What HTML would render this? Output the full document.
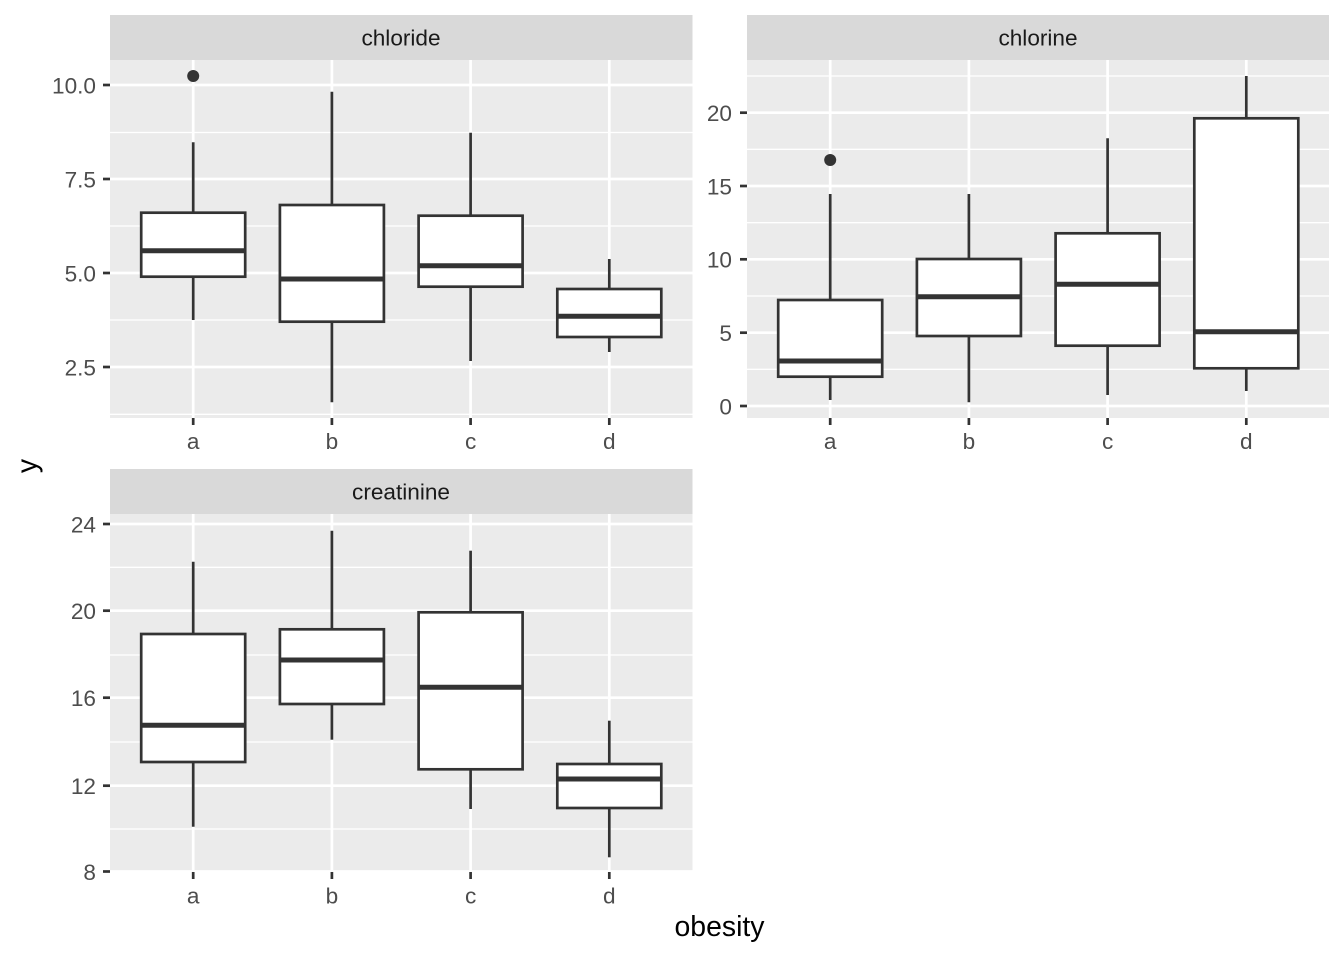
<!DOCTYPE html>
<html><head><meta charset="utf-8"><style>
html,body{margin:0;padding:0;background:#fff;}
svg{display:block;}
text{font-family:"Liberation Sans",Arial,sans-serif;}
</style></head><body>
<svg width="1344" height="960" viewBox="0 0 1344 960" xmlns="http://www.w3.org/2000/svg">
<rect width="1344" height="960" fill="#fff"/>

<!-- ===== Panel 1: chloride ===== -->
<rect x="110" y="15" width="582.5" height="45" fill="#D9D9D9"/>
<text x="401" y="45.7" font-size="22.6" fill="#1A1A1A" text-anchor="middle">chloride</text>
<rect x="110" y="60" width="582.5" height="358" fill="#EBEBEB"/>
<g stroke="#fff" stroke-width="1.35">
<line x1="110" x2="692.5" y1="132.5" y2="132.5"/>
<line x1="110" x2="692.5" y1="226" y2="226"/>
<line x1="110" x2="692.5" y1="320" y2="320"/>
<line x1="110" x2="692.5" y1="414.3" y2="414.3"/>
</g>
<g stroke="#fff" stroke-width="2.7">
<line x1="110" x2="692.5" y1="85" y2="85"/>
<line x1="110" x2="692.5" y1="179" y2="179"/>
<line x1="110" x2="692.5" y1="273" y2="273"/>
<line x1="110" x2="692.5" y1="367" y2="367"/>
<line x1="193.2" x2="193.2" y1="60" y2="418"/>
<line x1="331.9" x2="331.9" y1="60" y2="418"/>
<line x1="470.6" x2="470.6" y1="60" y2="418"/>
<line x1="609.3" x2="609.3" y1="60" y2="418"/>
</g>
<g stroke="#333" stroke-width="2.7" fill="#fff">
<!-- a -->
<line x1="193.2" x2="193.2" y1="142.3" y2="212.7"/>
<line x1="193.2" x2="193.2" y1="276.7" y2="320"/>
<rect x="141.2" y="212.7" width="104" height="64"/>
<!-- b -->
<line x1="331.9" x2="331.9" y1="91.7" y2="205"/>
<line x1="331.9" x2="331.9" y1="321.7" y2="402.3"/>
<rect x="279.9" y="205" width="104" height="116.7"/>
<!-- c -->
<line x1="470.6" x2="470.6" y1="132.7" y2="215.7"/>
<line x1="470.6" x2="470.6" y1="286.7" y2="361"/>
<rect x="418.6" y="215.7" width="104" height="71"/>
<!-- d -->
<line x1="609.3" x2="609.3" y1="259" y2="289"/>
<line x1="609.3" x2="609.3" y1="337" y2="352"/>
<rect x="557.3" y="289" width="104" height="48"/>
</g>
<g stroke="#333" stroke-width="5">
<line x1="141.2" x2="245.2" y1="250.7" y2="250.7"/>
<line x1="279.9" x2="383.9" y1="279" y2="279"/>
<line x1="418.6" x2="522.6" y1="265.7" y2="265.7"/>
<line x1="557.3" x2="661.3" y1="316.3" y2="316.3"/>
</g>
<circle cx="193.2" cy="76" r="6" fill="#333"/>
<g stroke="#333" stroke-width="2.7">
<line x1="103" x2="110" y1="85" y2="85"/>
<line x1="103" x2="110" y1="179" y2="179"/>
<line x1="103" x2="110" y1="273" y2="273"/>
<line x1="103" x2="110" y1="367" y2="367"/>
<line x1="193.2" x2="193.2" y1="418" y2="425"/>
<line x1="331.9" x2="331.9" y1="418" y2="425"/>
<line x1="470.6" x2="470.6" y1="418" y2="425"/>
<line x1="609.3" x2="609.3" y1="418" y2="425"/>
</g>
<g font-size="22.6" fill="#4D4D4D" text-anchor="end">
<text x="96" y="93.3">10.0</text>
<text x="96" y="187.3">7.5</text>
<text x="96" y="281.3">5.0</text>
<text x="96" y="375.3">2.5</text>
</g>
<g font-size="22.6" fill="#4D4D4D" text-anchor="middle">
<text x="193.2" y="449">a</text>
<text x="331.9" y="449">b</text>
<text x="470.6" y="449">c</text>
<text x="609.3" y="449">d</text>
</g>

<!-- ===== Panel 2: chlorine ===== -->
<rect x="747" y="15" width="582" height="45" fill="#D9D9D9"/>
<text x="1038" y="45.7" font-size="22.6" fill="#1A1A1A" text-anchor="middle">chlorine</text>
<rect x="747" y="60" width="582" height="358" fill="#EBEBEB"/>
<g stroke="#fff" stroke-width="1.35">
<line x1="747" x2="1329" y1="76" y2="76"/>
<line x1="747" x2="1329" y1="149.3" y2="149.3"/>
<line x1="747" x2="1329" y1="222.7" y2="222.7"/>
<line x1="747" x2="1329" y1="296" y2="296"/>
<line x1="747" x2="1329" y1="369.3" y2="369.3"/>
</g>
<g stroke="#fff" stroke-width="2.7">
<line x1="747" x2="1329" y1="112.7" y2="112.7"/>
<line x1="747" x2="1329" y1="186" y2="186"/>
<line x1="747" x2="1329" y1="259.3" y2="259.3"/>
<line x1="747" x2="1329" y1="332.7" y2="332.7"/>
<line x1="747" x2="1329" y1="406" y2="406"/>
<line x1="830.2" x2="830.2" y1="60" y2="418"/>
<line x1="968.9" x2="968.9" y1="60" y2="418"/>
<line x1="1107.6" x2="1107.6" y1="60" y2="418"/>
<line x1="1246.3" x2="1246.3" y1="60" y2="418"/>
</g>
<g stroke="#333" stroke-width="2.7" fill="#fff">
<line x1="830.2" x2="830.2" y1="194" y2="300"/>
<line x1="830.2" x2="830.2" y1="376.7" y2="400"/>
<rect x="778.2" y="300" width="104" height="76.7"/>
<line x1="968.9" x2="968.9" y1="194" y2="259"/>
<line x1="968.9" x2="968.9" y1="336" y2="402.3"/>
<rect x="916.9" y="259" width="104" height="77"/>
<line x1="1107.6" x2="1107.6" y1="138.3" y2="233.3"/>
<line x1="1107.6" x2="1107.6" y1="345.7" y2="395"/>
<rect x="1055.6" y="233.3" width="104" height="112.4"/>
<line x1="1246.3" x2="1246.3" y1="76" y2="118.3"/>
<line x1="1246.3" x2="1246.3" y1="368.3" y2="391"/>
<rect x="1194.3" y="118.3" width="104" height="250"/>
</g>
<g stroke="#333" stroke-width="5">
<line x1="778.2" x2="882.2" y1="361" y2="361"/>
<line x1="916.9" x2="1020.9" y1="296.7" y2="296.7"/>
<line x1="1055.6" x2="1159.6" y1="284.3" y2="284.3"/>
<line x1="1194.3" x2="1298.3" y1="331.7" y2="331.7"/>
</g>
<circle cx="830.2" cy="160" r="6" fill="#333"/>
<g stroke="#333" stroke-width="2.7">
<line x1="740" x2="747" y1="112.7" y2="112.7"/>
<line x1="740" x2="747" y1="186" y2="186"/>
<line x1="740" x2="747" y1="259.3" y2="259.3"/>
<line x1="740" x2="747" y1="332.7" y2="332.7"/>
<line x1="740" x2="747" y1="406" y2="406"/>
<line x1="830.2" x2="830.2" y1="418" y2="425"/>
<line x1="968.9" x2="968.9" y1="418" y2="425"/>
<line x1="1107.6" x2="1107.6" y1="418" y2="425"/>
<line x1="1246.3" x2="1246.3" y1="418" y2="425"/>
</g>
<g font-size="22.6" fill="#4D4D4D" text-anchor="end">
<text x="732" y="121">20</text>
<text x="732" y="194.3">15</text>
<text x="732" y="267.6">10</text>
<text x="732" y="341">5</text>
<text x="732" y="414.3">0</text>
</g>
<g font-size="22.6" fill="#4D4D4D" text-anchor="middle">
<text x="830.2" y="449">a</text>
<text x="968.9" y="449">b</text>
<text x="1107.6" y="449">c</text>
<text x="1246.3" y="449">d</text>
</g>

<!-- ===== Panel 3: creatinine ===== -->
<rect x="110" y="469" width="582.5" height="45" fill="#D9D9D9"/>
<text x="401" y="499.7" font-size="22.6" fill="#1A1A1A" text-anchor="middle">creatinine</text>
<rect x="110" y="514" width="582.5" height="358" fill="#EBEBEB"/>
<g stroke="#fff" stroke-width="1.35">
<line x1="110" x2="692.5" y1="567.3" y2="567.3"/>
<line x1="110" x2="692.5" y1="655" y2="655"/>
<line x1="110" x2="692.5" y1="742" y2="742"/>
<line x1="110" x2="692.5" y1="829" y2="829"/>
</g>
<g stroke="#fff" stroke-width="2.7">
<line x1="110" x2="692.5" y1="524" y2="524"/>
<line x1="110" x2="692.5" y1="610.7" y2="610.7"/>
<line x1="110" x2="692.5" y1="697.7" y2="697.7"/>
<line x1="110" x2="692.5" y1="785.7" y2="785.7"/>
<line x1="110" x2="692.5" y1="871.5" y2="871.5"/>
<line x1="193.2" x2="193.2" y1="514" y2="872"/>
<line x1="331.9" x2="331.9" y1="514" y2="872"/>
<line x1="470.6" x2="470.6" y1="514" y2="872"/>
<line x1="609.3" x2="609.3" y1="514" y2="872"/>
</g>
<g stroke="#333" stroke-width="2.7" fill="#fff">
<line x1="193.2" x2="193.2" y1="561.7" y2="634"/>
<line x1="193.2" x2="193.2" y1="762" y2="826.7"/>
<rect x="141.2" y="634" width="104" height="128"/>
<line x1="331.9" x2="331.9" y1="530.7" y2="629.3"/>
<line x1="331.9" x2="331.9" y1="704" y2="739.7"/>
<rect x="279.9" y="629.3" width="104" height="74.7"/>
<line x1="470.6" x2="470.6" y1="550.7" y2="612.3"/>
<line x1="470.6" x2="470.6" y1="769.3" y2="809"/>
<rect x="418.6" y="612.3" width="104" height="157"/>
<line x1="609.3" x2="609.3" y1="720.7" y2="764"/>
<line x1="609.3" x2="609.3" y1="808" y2="857.3"/>
<rect x="557.3" y="764" width="104" height="44"/>
</g>
<g stroke="#333" stroke-width="5">
<line x1="141.2" x2="245.2" y1="725.3" y2="725.3"/>
<line x1="279.9" x2="383.9" y1="660" y2="660"/>
<line x1="418.6" x2="522.6" y1="687.3" y2="687.3"/>
<line x1="557.3" x2="661.3" y1="779" y2="779"/>
</g>
<g stroke="#333" stroke-width="2.7">
<line x1="103" x2="110" y1="524" y2="524"/>
<line x1="103" x2="110" y1="610.7" y2="610.7"/>
<line x1="103" x2="110" y1="697.7" y2="697.7"/>
<line x1="103" x2="110" y1="785.7" y2="785.7"/>
<line x1="103" x2="110" y1="871.5" y2="871.5"/>
<line x1="193.2" x2="193.2" y1="872" y2="879"/>
<line x1="331.9" x2="331.9" y1="872" y2="879"/>
<line x1="470.6" x2="470.6" y1="872" y2="879"/>
<line x1="609.3" x2="609.3" y1="872" y2="879"/>
</g>
<g font-size="22.6" fill="#4D4D4D" text-anchor="end">
<text x="96" y="532.3">24</text>
<text x="96" y="619">20</text>
<text x="96" y="706">16</text>
<text x="96" y="794">12</text>
<text x="96" y="879.8">8</text>
</g>
<g font-size="22.6" fill="#4D4D4D" text-anchor="middle">
<text x="193.2" y="903.3">a</text>
<text x="331.9" y="903.3">b</text>
<text x="470.6" y="903.3">c</text>
<text x="609.3" y="903.3">d</text>
</g>

<!-- axis titles -->
<text x="719.5" y="936" font-size="28.4" fill="#000" text-anchor="middle">obesity</text>
<text transform="translate(36.5,466) rotate(-90)" font-size="28.4" fill="#000" text-anchor="middle">y</text>
</svg>
</body></html>
